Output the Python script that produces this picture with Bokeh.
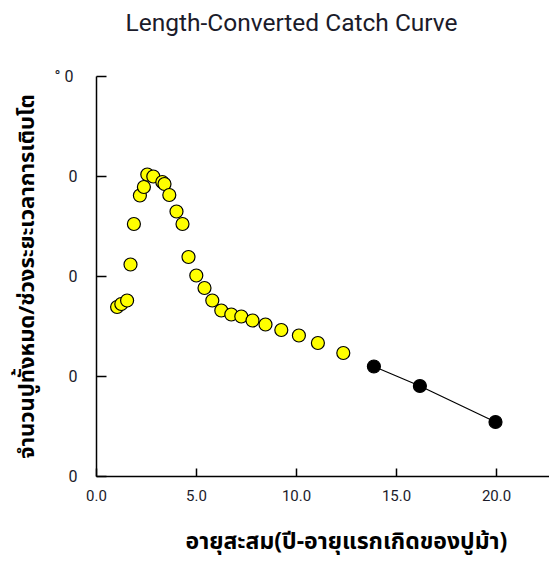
from bokeh.plotting import figure
from bokeh.models import ColumnDataSource, FixedTicker, Range1d, Title
from bokeh.embed import file_html
from bokeh.resources import INLINE

# Data
age_yellow = [1.03, 1.24, 1.53, 1.70, 1.87, 2.17, 2.37, 2.54, 2.84, 3.29, 3.40, 3.64,
              4.00, 4.30, 4.60, 4.99, 5.40, 5.79, 6.24, 6.74, 7.24, 7.80, 8.45, 9.24,
              10.12, 11.07, 12.34]
ln_yellow = [3.39, 3.45, 3.52, 4.24, 5.05, 5.62, 5.79, 6.04, 6.00, 5.89, 5.85, 5.63,
             5.30, 5.05, 4.39, 4.02, 3.77, 3.52, 3.32, 3.24, 3.20, 3.12, 3.04, 2.93,
             2.82, 2.67, 2.47]
age_black = [13.87, 16.17, 19.95]
ln_black = [2.20, 1.81, 1.09]

x_ticks = [0, 5, 10, 15, 20]
x_tick_labels = ["0.0", "5.0", "10.0", "15.0", "20.0"]
y_ticks = [0, 2, 4, 6, 8]
y_tick_labels = ["0", "0", "0", "0", "°  0"]

title_text = "Length-Converted Catch Curve"
x_label = "อายุสะสม(ปี-อายุแรกเกิดของปูม้า)"
y_label = "จำนวนปูทั้งหมด/ช่วงระยะเวลาการเติบโต"

thai_font = "Tahoma, 'Noto Sans Thai', 'Noto Sans', sans-serif"

p = figure(width=549, height=561, output_backend="svg", toolbar_location=None,
           x_range=Range1d(0, 22.65), y_range=Range1d(0, 8),
           min_border_left=96, min_border_right=0, min_border_top=76, min_border_bottom=85)
p.title = None
p.outline_line_color = None
p.xgrid.visible = False
p.ygrid.visible = False
p.background_fill_color = "white"

# spacer between frame and title
p.add_layout(Title(text=" ", text_font_size="34px", standoff=0), "above")
p.add_layout(Title(text=title_text, text_font="Roboto", text_font_size="24.5px",
                   text_font_style="normal", text_color="#1b1b2a", align="left",
                   offset=29, standoff=0), "above")

src_y = ColumnDataSource(dict(x=age_yellow, y=ln_yellow))
src_b = ColumnDataSource(dict(x=age_black, y=ln_black))

p.line("x", "y", source=src_b, line_color="black", line_width=1.2)
p.scatter("x", "y", source=src_y, marker="circle", size=13, fill_color="#ffff00",
          line_color="black", line_width=1.2)
p.scatter("x", "y", source=src_b, marker="circle", size=13, fill_color="black",
          line_color="black", line_width=1.2)

xa = p.xaxis[0]
xa.ticker = FixedTicker(ticks=x_ticks)
xa.major_label_overrides = {t: l for t, l in zip(x_ticks, x_tick_labels)}
xa.major_tick_in = 8
xa.major_tick_out = 0
xa.minor_tick_line_color = None
xa.axis_line_width = 1.5
xa.major_tick_line_width = 1.5
xa.major_label_text_font = "Roboto"
xa.major_label_text_font_size = "15px"
xa.major_label_text_color = "#1b1b2a"
xa.major_label_standoff = 13

ya = p.yaxis[0]
ya.ticker = FixedTicker(ticks=y_ticks)
ya.major_label_overrides = {t: l for t, l in zip(y_ticks, y_tick_labels)}
ya.major_tick_in = 10
ya.major_tick_out = 0
ya.minor_tick_line_color = None
ya.axis_line_width = 1.5
ya.major_tick_line_width = 1.5
ya.major_label_text_font = "Roboto"
ya.major_label_text_font_size = "16px"
ya.major_label_text_color = "#1b1b2a"
ya.major_label_standoff = 19
ya.axis_label = y_label
ya.axis_label_text_font = thai_font
ya.axis_label_text_font_size = "22px"
ya.axis_label_text_font_style = "bold"
ya.axis_label_text_color = "black"
ya.axis_label_standoff = 8

# spacer between axis and x label
p.add_layout(Title(text=" ", text_font_size="16px", standoff=0), "below")
p.add_layout(Title(text=x_label, text_font=thai_font, text_font_size="23px",
                   text_font_style="bold", text_color="black", align="left",
                   offset=89, standoff=0), "below")

open("out.html", "w").write(file_html(p, INLINE))
